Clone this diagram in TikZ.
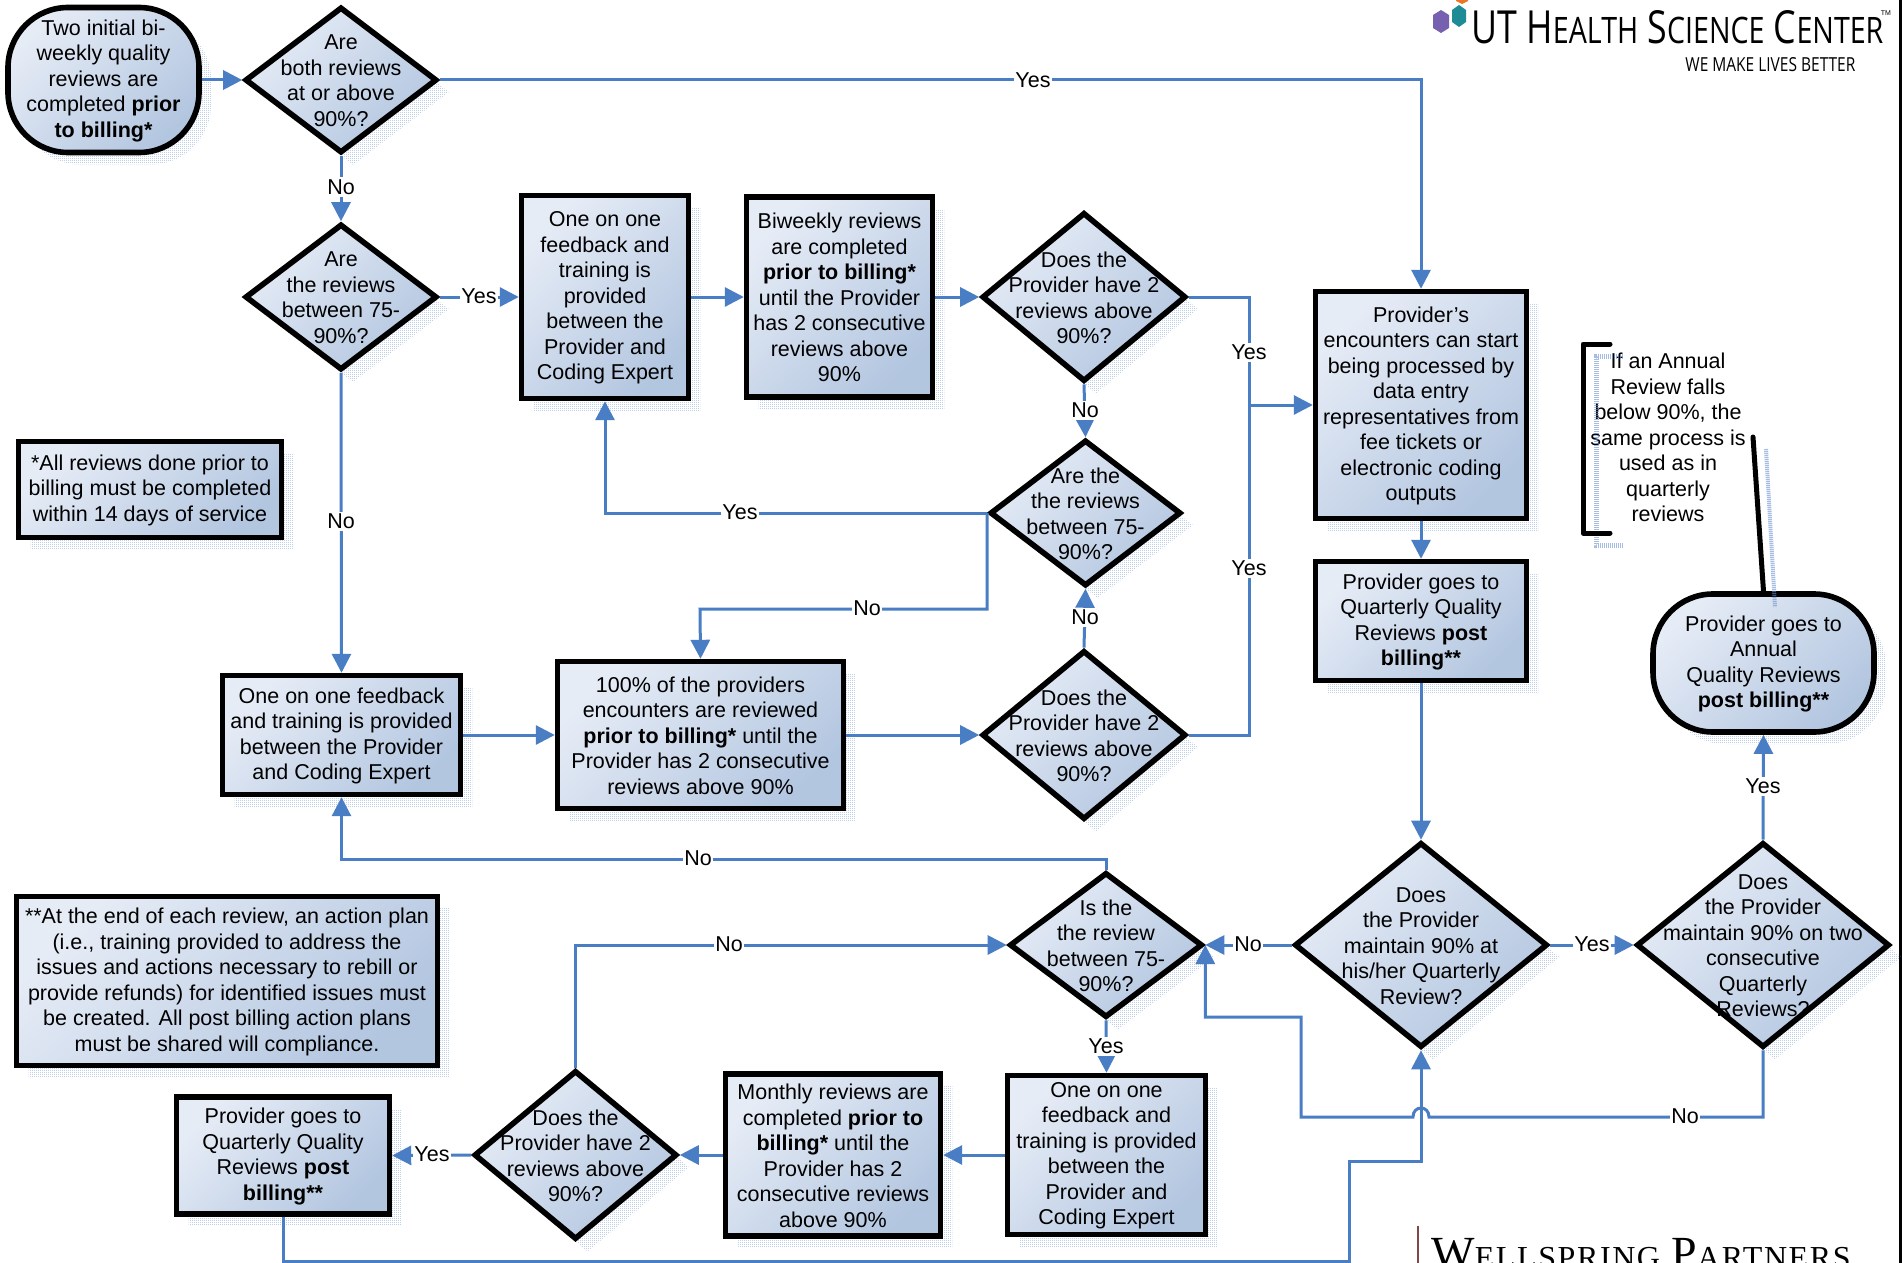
\documentclass[tikz,border=0pt]{standalone}
\usepackage{fontspec}
\usetikzlibrary{arrows.meta,shapes.geometric,patterns,calc}
\setmainfont{Liberation Sans}
\newfontfamily\logofont{Open Sans}
\newfontfamily\wellfont{Liberation Serif}
\newfontfamily\wellspaced[LetterSpace=5]{Liberation Serif}
\definecolor{conn}{HTML}{4A7EC4}
\definecolor{shA}{HTML}{E6ECF6}
\definecolor{shB}{HTML}{B3C6E0}
\definecolor{shadowc}{HTML}{6C90D0}
\pgfdeclarepatternformonly{fdots}{\pgfqpoint{0pt}{0pt}}{\pgfqpoint{1pt}{1pt}}{\pgfqpoint{1pt}{1pt}}{%
  \pgfpathrectangle{\pgfpointorigin}{\pgfqpoint{.55pt}{.55pt}}\pgfusepath{fill}}
\tikzset{
  every node/.style={inner sep=0pt},
  body/.style={draw=black,line width=2.8pt,top color=shA,bottom color=shB,shading angle=45,line join=miter},
  shadowshape/.style={draw=none,pattern=fdots,pattern color=shadowc,xshift=6pt,yshift=-6pt},
  txt/.style={align=center,font=\fontsize{10.75}{12.75}\selectfont,text=black,yshift=-.4pt},
  lab/.style={font=\fontsize{10.75}{12.75}\selectfont,fill=white,inner xsep=.5pt,inner ysep=1pt,text=black},
  link/.style={draw=conn,line width=1.5pt,line join=miter},
  arr/.style={link,-{Triangle[length=9.5pt,width=9.5pt]}},
  boxgeom/.style n args={2}{rectangle,minimum width=#1*.5pt-1.6pt,minimum height=#2*.5pt-1.6pt},
  diageom/.style n args={2}{diamond,minimum width=#1*.5pt,minimum height=#2*.5pt},
  termgeom/.style n args={2}{rectangle,rounded corners=30pt,minimum width=#1*.5pt-1pt,minimum height=#2*.5pt-1pt},
}
\newcommand\flowbox[6]{%
  \node[boxgeom={#4}{#5},shadowshape] (#1s) at (#2,#3) {};
  \node[boxgeom={#4}{#5},body] (#1) at (#2,#3) {};
  \node[txt] (#1t) at (#2,#3) {#6};}
\newcommand\flowdia[6]{%
  \node[diageom={#4}{#5},shadowshape] (#1s) at (#2,#3) {};
  \node[diageom={#4}{#5},body] (#1) at (#2,#3) {};
  \node[txt] (#1t) at (#2,#3) {#6};}
\newcommand\flowterm[6]{%
  \node[termgeom={#4}{#5},shadowshape] (#1s) at (#2,#3) {};
  \node[termgeom={#4}{#5},body] (#1) at (#2,#3) {};
  \node[txt] (#1t) at (#2,#3) {#6};}
\begin{document}
\begin{tikzpicture}[x=.5pt,y=-.5pt]
\useasboundingbox (0,0) rectangle (1902,1263);
% --- logos
\begin{scope}
\clip (0,0) rectangle (1902,1263);
\fill[fill=white] (0,0) rectangle (1902,1263);
\fill[color={rgb,255:red,232;green,120;blue,40}] (1456,-6) -- (1468,-6) -- (1468,1) -- (1462,4) -- (1456,1) -- cycle;
\fill[color={rgb,255:red,120;green,96;blue,176}] (1441,10) -- (1449,15) -- (1449,28) -- (1441,33) -- (1433,28) -- (1433,15) -- cycle;
\fill[color={rgb,255:red,30;green,140;blue,150}] (1459,5) -- (1466,10) -- (1466,22) -- (1459,27) -- (1452,22) -- (1452,10) -- cycle;
\node[anchor=west] (logoa) at (1471,27) {\resizebox{206pt}{16.5pt}{\logofont UT H{\fontsize{8}{8}\selectfont EALTH} S{\fontsize{8}{8}\selectfont CIENCE} C{\fontsize{8}{8}\selectfont ENTER}}};
\node (logotm) at (1886,13) {\fontsize{3.5}{3.5}\selectfont TM};
\node[anchor=west] (logob) at (1685,65) {\resizebox{85pt}{7pt}{\logofont WE MAKE LIVES BETTER}};
\fill[color={rgb,255:red,130;green,70;blue,70}] (1417,1226) rectangle (1419,1270);
\node[anchor=base west] (wella) at (1431,1268) {\wellfont\fontsize{23}{23}\selectfont W{\wellspaced\fontsize{16}{16}\selectfont ELLSPRING} P{\wellspaced\fontsize{16}{16}\selectfont ARTNERS}};
\end{scope}
% --- right edge
\fill[black] (1899,0) rectangle (1902,1263);
% --- nodes
\flowterm{st}{103.5}{80}{193}{147}{Two initial bi-\\weekly quality\\reviews are\\completed \textbf{prior}\\\textbf{to billing*}}
\flowdia{da}{341}{80}{192}{146}{Are\\both reviews\\at or above\\90\%?}
\flowdia{db}{341}{297}{192}{146}{Are\\the reviews\\between 75-\\90\%?}
\flowbox{ba}{605}{297}{170}{206}{One on one\\feedback and\\training is\\provided\\between the\\Provider and\\Coding Expert}
\flowbox{bb}{839.5}{297}{189}{203}{Biweekly reviews\\are completed\\\textbf{prior to billing*}\\until the Provider\\has 2 consecutive\\reviews above\\90\%}
\flowdia{dc}{1084}{297}{204}{169}{Does the\\Provider have 2\\reviews above\\90\%?}
\flowbox{pe}{1421}{405}{214}{230}{Provider's\\encounters can start\\being processed by\\data entry\\representatives from\\fee tickets or\\electronic coding\\outputs}
\flowbox{qa}{1421}{621}{214}{122}{Provider goes to\\Quarterly Quality\\Reviews \textbf{post}\\\textbf{billing**}}
\flowbox{na}{150}{489.5}{266}{99}{*All reviews done prior to\\billing must be completed\\within 14 days of service}
\flowdia{dd}{1085.5}{513}{191}{146}{Are the\\the reviews\\between 75-\\90\%?}
\flowbox{lb}{341.5}{735}{241}{122}{One on one feedback\\and training is provided\\between the Provider\\and Coding Expert}
\flowbox{bc}{700.5}{735}{289}{150}{100\% of the providers\\encounters are reviewed\\\textbf{prior to billing*} until the\\Provider has 2 consecutive\\reviews above 90\%}
\flowdia{de}{1084}{735}{204}{169}{Does the\\Provider have 2\\reviews above\\90\%?}
\flowdia{ir}{1106}{945}{193}{145}{Is the\\the review\\between 75-\\90\%?}
\flowdia{ma}{1421}{945}{253}{205}{Does\\the Provider\\maintain 90\% at\\his/her Quarterly\\Review?}
\flowdia{mb}{1763}{945}{253}{205}{Does\\the Provider\\maintain 90\% on two\\consecutive\\Quarterly\\Reviews?}
\flowterm{an}{1763.5}{663}{223}{140}{Provider goes to\\Annual\\Quality Reviews\\\textbf{post billing**}}
\flowbox{nb}{227}{981}{424}{172}{**At the end of each review, an action plan\\(i.e., training provided to address the\\issues and actions necessary to rebill or\\provide refunds) for identified issues must\\be created.  All post billing action plans\\must be shared will compliance.}
\flowbox{bd}{1106.5}{1155}{201}{162}{One on one\\feedback and\\training is provided\\between the\\Provider and\\Coding Expert}
\flowbox{mo}{833}{1155}{218}{165}{Monthly reviews are\\completed \textbf{prior to}\\\textbf{billing*} until the\\Provider has 2\\consecutive reviews\\above 90\%}
\flowdia{df}{575.5}{1155}{203}{169}{Does the\\Provider have 2\\reviews above\\90\%?}
\flowbox{qb}{283}{1155.5}{216}{120}{Provider goes to\\Quarterly Quality\\Reviews \textbf{post}\\\textbf{billing**}}
% --- annotation
\node[txt] (ann) at (1668,437) {If an Annual\\Review falls\\below 90\%, the\\same process is\\used as in\\quarterly\\reviews};
\coordinate (brTop) at (1610,344);
\coordinate (brBot) at (1610,533);
\coordinate (calA) at (1753,437);
\draw[draw=shadowc,line width=2.5pt,dash pattern=on .6pt off .4pt,opacity=.6] (1623,356) -- (1596,356) -- (1596,545) -- (1623,545);
\draw[draw=shadowc,line width=2pt,dash pattern=on .6pt off .4pt,opacity=.6] (1766,449) -- (1775,607);
\draw[black,line width=2.5pt,line cap=round,line join=round] (brTop) -- (1583,344) -- (1583,533) -- (brBot);
\draw[black,line width=2.5pt,line cap=round] (calA) -- (an.north);
% --- coordinates
\coordinate (jr) at (1249,405);
\coordinate (tp) at (700,609);
\coordinate (lp) at (700,859);
\coordinate (lo) at (1301,1017);
\coordinate (hr) at (1429,1117);
\coordinate (hl) at (1413,1117);
\coordinate (hc) at (1301,1117);
\coordinate (bot) at (1349,1261);
\coordinate (up) at (1421,1161);
% --- connectors
\draw[arr] (st.east) -- (da.west);
\draw[arr] (da.south) -- (db.north);
\draw[arr] (da.east) -| (pe.north);
\draw[arr] (db.east) -- (ba.west);
\draw[arr] (ba.east) -- (bb.west);
\draw[arr] (bb.east) -- (dc.west);
\draw[link] (dc.east) -| (jr) |- (de.east);
\draw[arr] (jr) -- (pe.west);
\draw[arr] (dc.south) -- (dd.north);
\draw[arr] (dd.west) -| (ba.south);
\draw[arr] (dd.west) |- (tp) -- (bc.north);
\draw[arr] (db.south) -- (lb.north);
\draw[arr] (lb.east) -- (bc.west);
\draw[arr] (bc.east) -- (de.west);
\draw[arr] (de.north) -- (dd.south);
\draw[arr] (pe.south) -- (qa.north);
\draw[arr] (qa.south) -- (ma.north);
\draw[arr] (ir.north) |- (lp) -| (lb.south);
\draw[arr] (ma.west) -- (ir.east);
\draw[arr] (ma.east) -- (mb.west);
\draw[arr] (mb.north) -- (an.south);
\draw[arr] (mb.south) |- (hr) .. controls ($(hr)+(0,-12)$) and ($(hl)+(0,-12)$) .. (hl) -- (hc) -- (lo) -| (ir.east);
\draw[arr] (ir.south) -- (bd.north);
\draw[arr] (bd.west) -- (mo.east);
\draw[arr] (mo.west) -- (df.east);
\draw[arr] (df.west) -- (qb.east);
\draw[arr] (df.north) |- (ir.west);
\draw[arr] (qb.south) |- (bot) |- (up) -- (ma.south);
% --- labels
\node[lab] (l1) at (1033,80) {Yes};
\node[lab] (l2) at (341,187) {No};
\node[lab] (l3) at (479,296) {Yes};
\node[lab] (l4) at (1249,352) {Yes};
\node[lab] (l5) at (1249,568) {Yes};
\node[lab] (l6) at (1085,410) {No};
\node[lab] (l7) at (740,512) {Yes};
\node[lab] (l8) at (867,608) {No};
\node[lab] (l9) at (341,521) {No};
\node[lab] (l10) at (1085,617) {No};
\node[lab] (l11) at (698,858) {No};
\node[lab] (l12) at (729,944) {No};
\node[lab] (l13) at (1248,944) {No};
\node[lab] (l14) at (1592,944) {Yes};
\node[lab] (l15) at (1763,786) {Yes};
\node[lab] (l16) at (1685,1116) {No};
\node[lab] (l17) at (1106,1046) {Yes};
\node[lab] (l18) at (432,1154) {Yes};
\end{tikzpicture}
\end{document}
